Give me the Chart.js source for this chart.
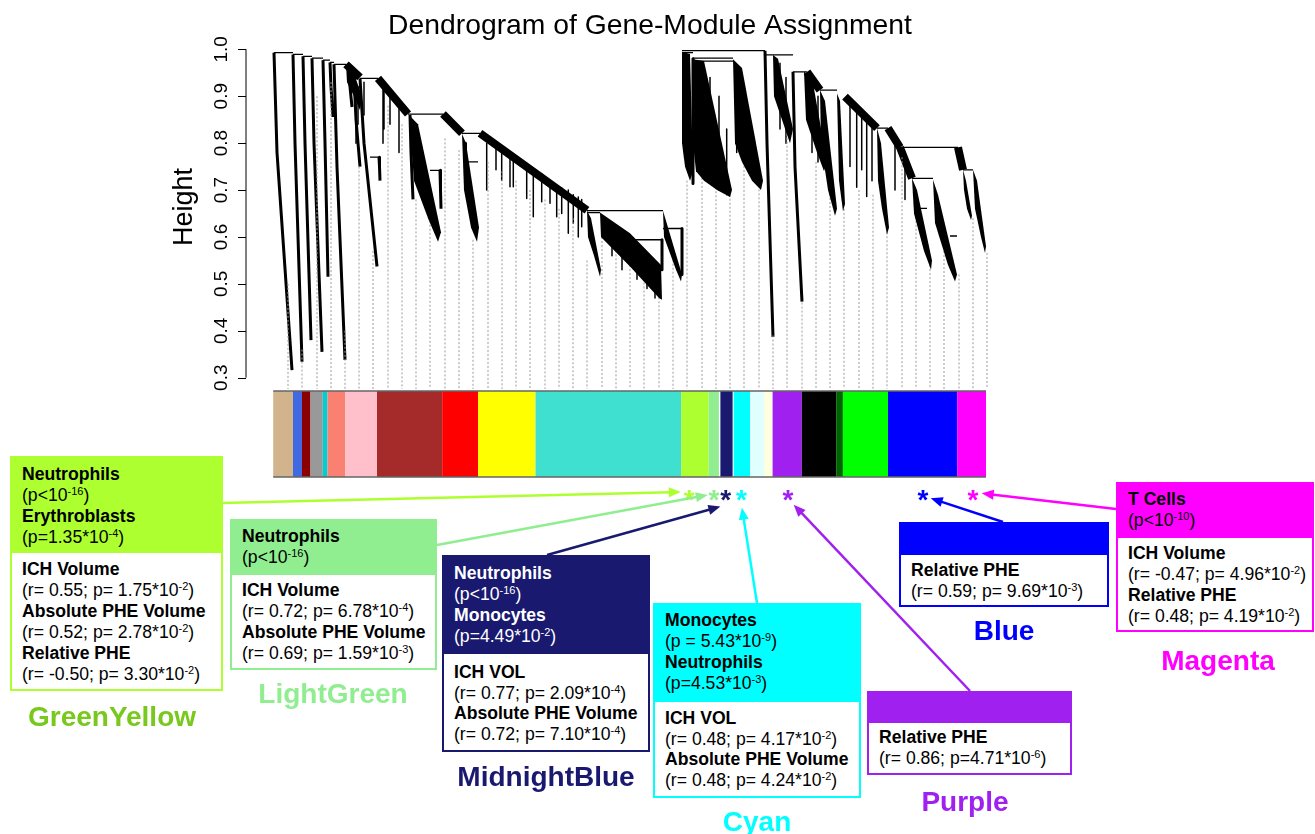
<!DOCTYPE html>
<html><head><meta charset="utf-8">
<script src="https://cdn.jsdelivr.net/npm/chart.js@4.4.0/dist/chart.umd.min.js"></script>
<style>
html,body{margin:0;padding:0;background:#fff;}
#wrap{position:relative;width:1315px;height:834px;overflow:hidden;font-family:"Liberation Sans",Arial,Helvetica,sans-serif;}
#cv{position:absolute;left:0;top:0;width:1315px;height:834px;}
.box{position:absolute;box-sizing:border-box;border:2px solid;background:#fff;}
.hd,.bd{padding-left:10px;font-size:17.6px;line-height:21px;color:#000;white-space:nowrap;box-sizing:border-box;}
.b{font-weight:bold;}
sup{font-size:11px;line-height:0;vertical-align:baseline;position:relative;top:-6px;}
.lab{position:absolute;transform:translate(-50%,-50%);font-weight:bold;font-size:28px;line-height:1;white-space:nowrap;}
</style></head>
<body>
<div id="wrap">
<div id="cv"><canvas id="c"></canvas></div>

<div class="box" style="left:10px;top:456px;width:213px;height:235px;border-color:#ADFF2F">
 <div class="hd" style="height:95px;background:#ADFF2F;padding-top:6px">
  <div class="b">Neutrophils</div><div>(p&lt;10<sup>-16</sup>)</div><div class="b">Erythroblasts</div><div>(p=1.35*10<sup>-4</sup>)</div>
 </div>
 <div class="bd" style="padding-top:6px">
  <div class="b">ICH Volume</div><div>(r= 0.55; p= 1.75*10<sup>-2</sup>)</div><div class="b">Absolute PHE Volume</div><div>(r= 0.52; p= 2.78*10<sup>-2</sup>)</div><div class="b">Relative PHE</div><div>(r= -0.50; p= 3.30*10<sup>-2</sup>)</div>
 </div>
</div>
<div class="lab" style="left:112px;top:717px;color:#78C81E">GreenYellow</div>

<div class="box" style="left:230px;top:519px;width:207px;height:151px;border-color:#90EE90">
 <div class="hd" style="height:54px;background:#90EE90;padding-top:5px">
  <div class="b">Neutrophils</div><div>(p&lt;10<sup>-16</sup>)</div>
 </div>
 <div class="bd" style="padding-top:5px">
  <div class="b">ICH Volume</div><div>(r= 0.72; p= 6.78*10<sup>-4</sup>)</div><div class="b">Absolute PHE Volume</div><div>(r= 0.69; p= 1.59*10<sup>-3</sup>)</div>
 </div>
</div>
<div class="lab" style="left:333px;top:694px;color:#90EE90">LightGreen</div>

<div class="box" style="left:442px;top:555px;width:208px;height:197px;border-color:#191970">
 <div class="hd" style="height:97px;background:#191970;color:#fff;padding-top:6px">
  <div class="b">Neutrophils</div><div>(p&lt;10<sup>-16</sup>)</div><div class="b">Monocytes</div><div>(p=4.49*10<sup>-2</sup>)</div>
 </div>
 <div class="bd" style="padding-top:8px;line-height:20.7px">
  <div class="b">ICH VOL</div><div>(r= 0.77; p= 2.09*10<sup>-4</sup>)</div><div class="b">Absolute PHE Volume</div><div>(r= 0.72; p= 7.10*10<sup>-4</sup>)</div>
 </div>
</div>
<div class="lab" style="left:546px;top:777px;color:#191970">MidnightBlue</div>

<div class="box" style="left:653px;top:603px;width:208px;height:195px;border-color:#00FFFF">
 <div class="hd" style="height:97px;background:#00FFFF;padding-top:5px">
  <div class="b">Monocytes</div><div>(p = 5.43*10<sup>-9</sup>)</div><div class="b">Neutrophils</div><div>(p=4.53*10<sup>-3</sup>)</div>
 </div>
 <div class="bd" style="padding-top:6px;line-height:20.6px">
  <div class="b">ICH VOL</div><div>(r= 0.48; p= 4.17*10<sup>-2</sup>)</div><div class="b">Absolute PHE Volume</div><div>(r= 0.48; p= 4.24*10<sup>-2</sup>)</div>
 </div>
</div>
<div class="lab" style="left:757px;top:822px;color:#00FFFF">Cyan</div>

<div class="box" style="left:899px;top:522px;width:210px;height:85px;border-color:#0000FF">
 <div class="hd" style="height:31px;background:#0000FF"></div>
 <div class="bd" style="padding-top:5px">
  <div class="b">Relative PHE</div><div>(r= 0.59; p= 9.69*10<sup>-3</sup>)</div>
 </div>
</div>
<div class="lab" style="left:1004px;top:631px;color:#0000FF">Blue</div>

<div class="box" style="left:1116px;top:482px;width:198px;height:150px;border-color:#FF00FF">
 <div class="hd" style="height:54px;background:#FF00FF;padding-top:5px">
  <div class="b">T Cells</div><div>(p&lt;10<sup>-10</sup>)</div>
 </div>
 <div class="bd" style="padding-top:5px">
  <div class="b">ICH Volume</div><div>(r= -0.47; p= 4.96*10<sup>-2</sup>)</div><div class="b">Relative PHE</div><div>(r= 0.48; p= 4.19*10<sup>-2</sup>)</div>
 </div>
</div>
<div class="lab" style="left:1218px;top:661px;color:#FF00FF">Magenta</div>

<div class="box" style="left:867px;top:691px;width:205px;height:84px;border-color:#A020F0">
 <div class="hd" style="height:30px;background:#A020F0"></div>
 <div class="bd" style="padding-top:4px">
  <div class="b">Relative PHE</div><div>(r= 0.86; p=4.71*10<sup>-6</sup>)</div>
 </div>
</div>
<div class="lab" style="left:965px;top:802px;color:#A020F0">Purple</div>
</div>

<script>
// ---------- data (x = ordered leaf position, y = merge height) ----------
const chartTitle = 'Dendrogram of Gene-Module Assignment';
const yTitle = 'Height';
const yTicks = [0.3, 0.4, 0.5, 0.6, 0.7, 0.8, 0.9, 1.0];

const moduleNames  = ['tan','royalblue','darkred','grey60','darkturquoise','salmon','pink','brown','red','yellow','turquoise','greenyellow','lightgreen','midnightblue','cyan','lightcyan','lightyellow','purple','black','darkgreen','green','blue','magenta'];
const moduleStart  = [1.2, 21, 30, 38.5, 50.8, 55.5, 73.4, 105, 170.2, 206, 263.5, 409.2, 436.6, 448.4, 461.7, 478, 492, 500.6, 529.8, 564.2, 570.9, 616, 685.2];
const moduleEnd    = [21, 30, 38.5, 50.8, 55.5, 73.4, 105, 170.2, 206, 263.5, 409.2, 436.6, 446.9, 460.6, 478, 492, 500.6, 529.8, 564.2, 570.9, 616, 685.2, 714];
const moduleColors = ['#D2B48C','#4169E1','#8B0000','#999999','#00CED1','#FA8072','#FFC0CB','#A52A2A','#FF0000','#FFFF00','#40E0D0','#ADFF2F','#90EE90','#191970','#00FFFF','#E0FFFF','#FFFFE0','#A020F0','#000000','#006400','#00FF00','#0000FF','#FF00FF'];

const starModules = ['GreenYellow','LightGreen','MidnightBlue','Cyan','Purple','Blue','Magenta'];
const starLeaf    = [417.3, 442, 453.6, 469.5, 516, 651, 701];
const starColors  = ['#ADFF2F','#90EE90','#191970','#00FFFF','#A020F0','#0000FF','#FF00FF'];

// merges: [leftLeaf, rightLeaf, height]
const mergeLinks = [
 [2,21,0.993],[21,31,0.989],[31,40,0.985],[40,51,0.981],[51,58,0.977],[58,62,0.972],[62,74,0.968],
 [88,106,0.938],[98,107,0.77],[136,171,0.862],[158,168,0.742],[190,208,0.821],[194,206,0.76],
 [315,391,0.656],[315,328,0.652],[361,390,0.594],[391,410,0.618],
 [410,493,0.997],[410,421,0.993],[421,461,0.981],[423,461,0.975],[493,521,0.988],[521,535,0.952],
 [548,565,0.913],[605,616,0.832],[628,686,0.791],[640,661,0.725],[648,655,0.661],[678,685,0.602],[691,701,0.743]
];
// long leaf spines: [x0,h0,xBend,hBend,x1,h1]
const spines = [
 [2,0.993,5,0.78,20,0.316],[21,0.989,23,0.80,30,0.334],[31,0.985,33,0.80,39,0.38],[40,0.981,42,0.80,50,0.355],
 [51,0.977,53,0.80,56,0.515],[58,0.972,59,0.92,61,0.856],[62,0.968,65,0.75,73,0.338],[76,0.965,78,0.92,80,0.877],
 [82,0.94,84,0.85,88,0.75],[88,0.938,92,0.80,105,0.537],[107,0.77,107.5,0.75,108,0.72],[138,0.86,139,0.78,141,0.68],
 [168,0.742,168.5,0.70,169,0.66],[193,0.80,193.5,0.76,194,0.72],[390,0.594,390,0.56,390,0.53],[410,0.618,410,0.57,410,0.52],
 [421,0.98,421,0.85,421,0.714],[493,0.997,495,0.80,501,0.387],[521,0.952,523,0.75,530,0.462]
];
// dense staircase bands: [x0,h0,x1,h1]
const bands = [
 [74,0.968,88,0.94],[106,0.938,136,0.862],[171,0.862,190,0.821],[208,0.821,315,0.657],
 [535,0.952,548,0.913],[573,0.899,605,0.832],[616,0.832,628,0.791],[628,0.791,640,0.725],[686,0.791,691,0.743]
];
// dense leaf fans (outline polygons)
const fans = [
 [[74,0.968],[80,0.96],[90,0.90],[88,0.87],[82,0.90],[75,0.93]],
 [[137,0.86],[146,0.84],[169,0.61],[166,0.59],[156,0.64],[142,0.72]],
 [[190,0.82],[194,0.80],[207,0.62],[205,0.59],[199,0.62],[192,0.70]],
 [[315,0.656],[319,0.64],[329,0.53],[328,0.515],[322,0.56],[316,0.60]],
 [[328,0.652],[358,0.608],[389,0.54],[390,0.466],[387,0.47],[358,0.537],[329,0.60]],
 [[391,0.656],[396,0.62],[410,0.52],[409,0.505],[404,0.53],[392,0.60]],
 [[410,0.995],[418,0.99],[421,0.74],[418,0.72],[413,0.75],[410,0.80]],
 [[421,0.979],[432,0.975],[460,0.70],[458,0.685],[445,0.70],[432,0.72],[424,0.74],[421,0.80]],
 [[461,0.979],[470,0.96],[491,0.72],[489,0.70],[480,0.72],[470,0.76],[463,0.80]],
 [[501,0.988],[506,0.98],[521,0.83],[518,0.80],[510,0.85],[502,0.90]],
 [[532,0.952],[540,0.94],[555,0.76],[552,0.74],[545,0.78],[534,0.85]],
 [[548,0.913],[553,0.89],[565,0.66],[563,0.645],[556,0.70],[549,0.80]],
 [[565,0.906],[568,0.89],[573,0.67],[571,0.655],[567,0.72]],
 [[605,0.832],[609,0.80],[617,0.62],[615,0.605],[610,0.66],[606,0.72]],
 [[640,0.725],[645,0.70],[660,0.55],[659,0.53],[652,0.57],[642,0.65]],
 [[661,0.722],[666,0.69],[685,0.52],[683,0.505],[676,0.54],[663,0.63]],
 [[691,0.743],[694,0.72],[700,0.645],[699,0.636],[695,0.66],[692,0.70]],
 [[701,0.743],[705,0.72],[714,0.58],[713,0.566],[709,0.60],[703,0.66]]
];
// short hanging leaves: [x, hTop, hBottom]
const spikes = [
 [214.7,0.80,0.70],[224,0.79,0.743],[229.7,0.785,0.721],[238,0.775,0.707],[241.3,0.77,0.707],[254.7,0.75,0.682],
 [261.3,0.745,0.643],[269.7,0.735,0.675],[278,0.72,0.672],[284.7,0.71,0.643],[289.7,0.705,0.65],[296.3,0.70,0.608],
 [301.3,0.69,0.629],[306.3,0.685,0.60],[309.7,0.68,0.622],
 [111,0.92,0.80],[112,0.915,0.83],[118,0.90,0.84],[127,0.88,0.78],[84,0.93,0.80],[86,0.92,0.84],[92,0.93,0.86],
 [578,0.885,0.75],[584.7,0.875,0.706],[589.7,0.865,0.743],[594.7,0.855,0.686],[600,0.845,0.72],
 [340,0.62,0.56],[350,0.60,0.53],[365,0.58,0.51],[375,0.56,0.49],[383,0.545,0.47],
 [425,0.96,0.75],[438,0.94,0.75],[447,0.90,0.70],[454.7,0.83,0.69],[464.7,0.936,0.78],[471,0.93,0.80],
 [508,0.97,0.83],[514,0.94,0.80],[540,0.93,0.78],[546,0.90,0.76],[623,0.81,0.70],[633,0.76,0.68]
];
// guide lines: [x, hTop]
const guides = [
 [16,0.50],[30,0.36],[45,0.90],[59,0.93],[73,0.40],[87,0.75],[101,0.57],[116,0.88],[130,0.84],[144,0.68],
 [158,0.66],[173,0.81],[187,0.785],[201,0.594],[216,0.76],[230,0.74],[244,0.72],[258,0.70],[273,0.68],[287,0.66],
 [301,0.64],[315,0.55],[330,0.60],[344,0.58],[358,0.54],[372,0.52],[387,0.48],[401,0.56],[415,0.72],[430,0.76],
 [444,0.74],[458,0.69],[472,0.76],[487,0.71],[501,0.39],[515,0.82],[530,0.46],[544,0.76],[558,0.70],[572,0.66],
 [587,0.70],[601,0.69],[615,0.61],[630,0.77],[644,0.66],[658,0.54],[672,0.57],[687,0.52],[701,0.64],[715,0.566]
];
const guideBase = 0.276;

// ---------- layout (pixels) ----------
const BAR_TOP = 391, BAR_BOTTOM = 477, STAR_Y = 492;
const arrowTails = [[222,503],[437,545],[547,555],[757,603],[970,691],[1003,522],[1116,509]];
const arrowTipOffsets = [[-8.5,0],[-6.2,3],[-5.2,14.6],[0.4,15.7],[5.7,12.7],[7.7,6.3],[8.7,1.3]];
const FONT = '"Liberation Sans", Arial, Helvetica, sans-serif';

function toPolyline(items, toPts) {
  const out = [];
  items.forEach(it => {
    const pts = toPts(it);
    pts.forEach(p => out.push(p));
    out.push({x: pts[pts.length - 1].x, y: null});
  });
  return out;
}

function lineSet(data, width, color, dash) {
  return {data, showLine: true, borderColor: color, borderWidth: width, pointRadius: 0,
          borderDash: dash || [], borderCapStyle: 'butt', borderJoinStyle: 'round',
          spanGaps: false, clip: false, fill: false, tension: 0};
}

const datasets = [
  lineSet(toPolyline(guides, g => [{x:g[0], y:g[1]}, {x:g[0], y:guideBase}]), 1, '#9a9a9a', [2,2]),
  lineSet(toPolyline(mergeLinks, m => [{x:m[0], y:m[2]}, {x:m[1], y:m[2]}]), 1.3, '#000'),
  lineSet(toPolyline(spikes, s => [{x:s[0], y:s[1]}, {x:s[0], y:s[2]}]), 1.5, '#000'),
  lineSet(toPolyline(spines, s => [{x:s[0], y:s[1]}, {x:s[2], y:s[3]}, {x:s[4], y:s[5]}]), 3, '#000'),
  lineSet(toPolyline(bands, s => [{x:s[0], y:s[1]}, {x:s[2], y:s[3]}]), 8, '#000')
];

const extras = {
  id: 'extras',
  afterDatasetsDraw(chart) {
    const {ctx, scales: {x, y}} = chart;
    ctx.save();
    ctx.fillStyle = '#000';
    fans.forEach(poly => {
      ctx.beginPath();
      poly.forEach((p, i) => {
        const px = x.getPixelForValue(p[0]), py = y.getPixelForValue(p[1]);
        if (i) ctx.lineTo(px, py); else ctx.moveTo(px, py);
      });
      ctx.closePath();
      ctx.fill();
    });
    ctx.restore();
  },
  afterDraw(chart) {
    const {ctx, chartArea, scales: {x, y}} = chart;
    ctx.save();
    // module colour bar
    moduleNames.forEach((n, i) => {
      const x0 = x.getPixelForValue(moduleStart[i]), x1 = x.getPixelForValue(moduleEnd[i]);
      ctx.fillStyle = moduleColors[i];
      ctx.fillRect(x0, BAR_TOP, x1 - x0, BAR_BOTTOM - BAR_TOP);
    });
    const bx0 = x.getPixelForValue(moduleStart[0]), bx1 = x.getPixelForValue(moduleEnd[moduleEnd.length - 1]);
    ctx.strokeStyle = '#666'; ctx.lineWidth = 1.5;
    ctx.beginPath(); ctx.moveTo(bx0, BAR_TOP); ctx.lineTo(bx1, BAR_TOP);
    ctx.moveTo(bx0, BAR_BOTTOM); ctx.lineTo(bx1, BAR_BOTTOM); ctx.stroke();

    // arrows and stars
    starLeaf.forEach((v, i) => {
      const sx = x.getPixelForValue(v);
      const tip = [sx + arrowTipOffsets[i][0], STAR_Y + arrowTipOffsets[i][1]];
      const tail = arrowTails[i];
      const dx = tip[0] - tail[0], dy = tip[1] - tail[1];
      const L = Math.hypot(dx, dy), ux = dx / L, uy = dy / L;
      const hl = 12, hw = 5;
      const bxp = tip[0] - ux * hl, byp = tip[1] - uy * hl;
      ctx.strokeStyle = starColors[i]; ctx.fillStyle = starColors[i];
      ctx.lineWidth = 2.5;
      ctx.beginPath(); ctx.moveTo(tail[0], tail[1]); ctx.lineTo(bxp + ux * 2, byp + uy * 2); ctx.stroke();
      ctx.beginPath(); ctx.moveTo(tip[0], tip[1]);
      ctx.lineTo(bxp - uy * hw, byp + ux * hw); ctx.lineTo(bxp + uy * hw, byp - ux * hw);
      ctx.closePath(); ctx.fill();
      ctx.font = 'bold 28px ' + FONT;
      ctx.textAlign = 'center'; ctx.textBaseline = 'alphabetic';
      ctx.fillText('*', sx, STAR_Y + 17);
    });

    // y axis
    const ax = chartArea.left;
    ctx.strokeStyle = '#000'; ctx.lineWidth = 1; ctx.fillStyle = '#000';
    ctx.beginPath();
    ctx.moveTo(ax, y.getPixelForValue(yTicks[0])); ctx.lineTo(ax, y.getPixelForValue(yTicks[yTicks.length - 1]));
    yTicks.forEach(t => { const py = Math.round(y.getPixelForValue(t)) + 0.5; ctx.moveTo(ax - 8, py); ctx.lineTo(ax, py); });
    ctx.stroke();
    ctx.font = '19px ' + FONT; ctx.textAlign = 'center'; ctx.textBaseline = 'middle';
    yTicks.forEach(t => {
      ctx.save(); ctx.translate(ax - 24, y.getPixelForValue(t)); ctx.rotate(-Math.PI / 2);
      ctx.fillText(t.toFixed(1), 0, 0); ctx.restore();
    });
    ctx.save(); ctx.font = '27px ' + FONT; ctx.translate(185, 207); ctx.rotate(-Math.PI / 2);
    ctx.fillText(yTitle, 0, 0); ctx.restore();
    // title
    ctx.font = '28.3px ' + FONT; ctx.textAlign = 'center'; ctx.textBaseline = 'alphabetic';
    ctx.fillText(chartTitle, 650, 34);
    ctx.restore();
  }
};

new Chart(document.getElementById('c'), {
  type: 'scatter',
  data: {datasets},
  options: {
    responsive: true, maintainAspectRatio: false, animation: false, events: [],
    layout: {padding: {left: 246, right: 303, top: 49.3, bottom: 456.3}},
    plugins: {legend: {display: false}, tooltip: {enabled: false}, title: {display: false}},
    scales: {
      x: {type: 'linear', min: -26, max: 740, display: false},
      y: {type: 'linear', min: 0.3, max: 1.0, display: false}
    }
  },
  plugins: [extras]
});
</script>
</body></html>
